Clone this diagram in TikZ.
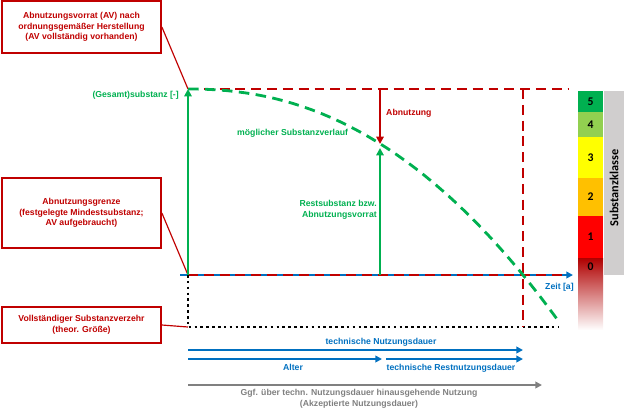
\documentclass[tikz,border=0pt]{standalone}
\usepackage{fontspec}
\setmainfont{Liberation Sans}
\newfontfamily\calfont{Carlito}
\usetikzlibrary{arrows.meta,positioning}
\definecolor{avred}{HTML}{C00000}
\definecolor{avgreen}{HTML}{00B050}
\definecolor{avblue}{HTML}{0070C0}
\definecolor{avgray}{HTML}{808080}
\definecolor{klgray}{HTML}{D0CECE}
\definecolor{kl5}{HTML}{00B050}
\definecolor{kl4}{HTML}{92D050}
\definecolor{kl3}{HTML}{FFFF00}
\definecolor{kl2}{HTML}{FFC000}
\definecolor{kl1}{HTML}{FF0000}
\definecolor{kl0}{HTML}{B00000}

\begin{document}
\begin{tikzpicture}[x=0.03cm, y=-0.03cm,
  note/.style={draw=avred, line width=1.5pt, fill=white, minimum width=4.77cm, align=center, text=avred, font=\bfseries\fontsize{7.4}{9}\selectfont},
  lbl/.style={font=\bfseries\fontsize{7.4}{9}\selectfont, inner sep=0pt, align=center},
  lead/.style={avred, line width=1pt},
  reddash/.style={avred, line width=2pt, dash pattern=on 8.5pt off 5pt},
  greendash/.style={avgreen, line width=2.4pt, dash pattern=on 9pt off 5.5pt},
  dotline/.style={black, line width=2.2pt, dash pattern=on 2.2pt off 2.8pt},
  greenarrow/.style={avgreen, line width=2pt, -{Triangle[length=2.2mm, width=2.2mm]}},
  redarrow/.style={avred, line width=1.8pt, -{Triangle[length=2.2mm, width=2.2mm]}},
  bluearrow/.style={avblue, line width=2.2pt, -{Triangle[length=2mm, width=2mm]}},
  grayarrow/.style={avgray, line width=2.2pt, -{Triangle[length=2mm, width=2mm]}},
  klnum/.style={font=\calfont\bfseries\fontsize{10}{11}\selectfont, inner sep=0pt}
]
\useasboundingbox (0,0) rectangle (628,414);

% notes on the left
\node[note, minimum height=1.56cm] (av) at (81.5,27) {Abnutzungsvorrat (AV) nach\\ordnungsgemäßer Herstellung\\(AV vollständig vorhanden)};
\node[note, minimum height=2.1cm] (ag) at (81.5,213) {Abnutzungsgrenze\\(festgelegte Mindestsubstanz;\\AV aufgebraucht)};
\node[note, minimum height=1.08cm] (vz) at (81.5,325) {Vollständiger Substanzverzehr\\(theor. Größe)};

% key points
\coordinate (O) at (188,275);
\coordinate (G) at (188,89);
\coordinate (N) at (188,327);
\coordinate (T) at (568,89);
\coordinate (E) at (523,89);
\coordinate (EN) at (523,327);
\coordinate (NE) at (558,327);
\coordinate (xs) at (180,275);
\coordinate (xe) at (573,275);
\coordinate (xr) at (566,275);

\draw[lead] (av.east) -- (G);
\draw[lead] (ag.east) -- (O);
\draw[lead] (vz.east) -- (N);

% time axis
\draw[avblue, line width=2pt, -{Triangle[length=2mm, width=2mm]}] (xs) -- (xe);
\draw[reddash] (O) -- (xr);
\draw[dotline] (O) -- (N) -- (NE);

% limits
\draw[reddash] (G) -- (T);
\draw[reddash] (E) -- (EN);
\draw[greenarrow] (O) -- (G);

% substance curve
\draw[greendash] (G) -- plot[domain=189:557, samples=40] (\x, {89+186*((\x-188)/335)^2.2});

\coordinate (ra) at (380,90);
\coordinate (rb) at (380,144);
\coordinate (ga) at (380,275);
\coordinate (gb) at (380,148);
\draw[redarrow] (ra) -- (rb);
\draw[greenarrow] (ga) -- (gb);

% labels
\node[lbl, text=avgreen, anchor=east] (gs) at (179,95) {(Gesamt)substanz [-]};
\node[lbl, text=avgreen, anchor=west] (msv) at (237,133) {möglicher Substanzverlauf};
\node[lbl, text=avred, anchor=west] (abn) at (386,113) {Abnutzung};
\node[lbl, text=avgreen, anchor=east, align=right] (rest) at (377,210) {Restsubstanz bzw.\\Abnutzungsvorrat};
\node[lbl, text=avblue, anchor=west] (zeit) at (545,287) {Zeit [a]};

% durations
\coordinate (d1s) at (188,350);
\coordinate (d1e) at (523,350);
\coordinate (d2s) at (188,359);
\coordinate (d2e) at (382,359);
\coordinate (d3s) at (386,359);
\coordinate (d3e) at (523,359);
\coordinate (d4s) at (188,385);
\coordinate (d4e) at (542,385);
\draw[bluearrow] (d1s) -- (d1e);
\draw[bluearrow] (d2s) -- (d2e);
\draw[bluearrow] (d3s) -- (d3e);
\draw[grayarrow] (d4s) -- (d4e);
\node[lbl, text=avblue] (tnd) at (381,342) {technische Nutzungsdauer};
\node[lbl, text=avblue] (alt) at (293,367) {Alter};
\node[lbl, text=avblue] (trnd) at (451,368) {technische Restnutzungsdauer};
\node[lbl, text=avgray] (ggf) at (359,399) {Ggf. über techn. Nutzungsdauer hinausgehende Nutzung\\(Akzeptierte Nutzungsdauer)};

% class bar
\fill[klgray] (604,91) rectangle (624,275);
\node[rotate=90, font=\calfont\bfseries\fontsize{10.5}{12}\selectfont] (kl) at (614,188) {Substanzklasse};
\foreach \k/\ya/\yb in {5/91/112, 4/112/137, 3/137/178, 2/178/216, 1/216/258} {
  \fill[kl\k] (578,\ya) rectangle (603,\yb);
  \node[klnum] (k\k) at (590.5,{(\ya+\yb)/2}) {\k};
}
\shade[top color=kl0, bottom color=white] (578,258) rectangle (603,330);
\node[klnum] (k0) at (590.5,267) {0};
\end{tikzpicture}
\end{document}
